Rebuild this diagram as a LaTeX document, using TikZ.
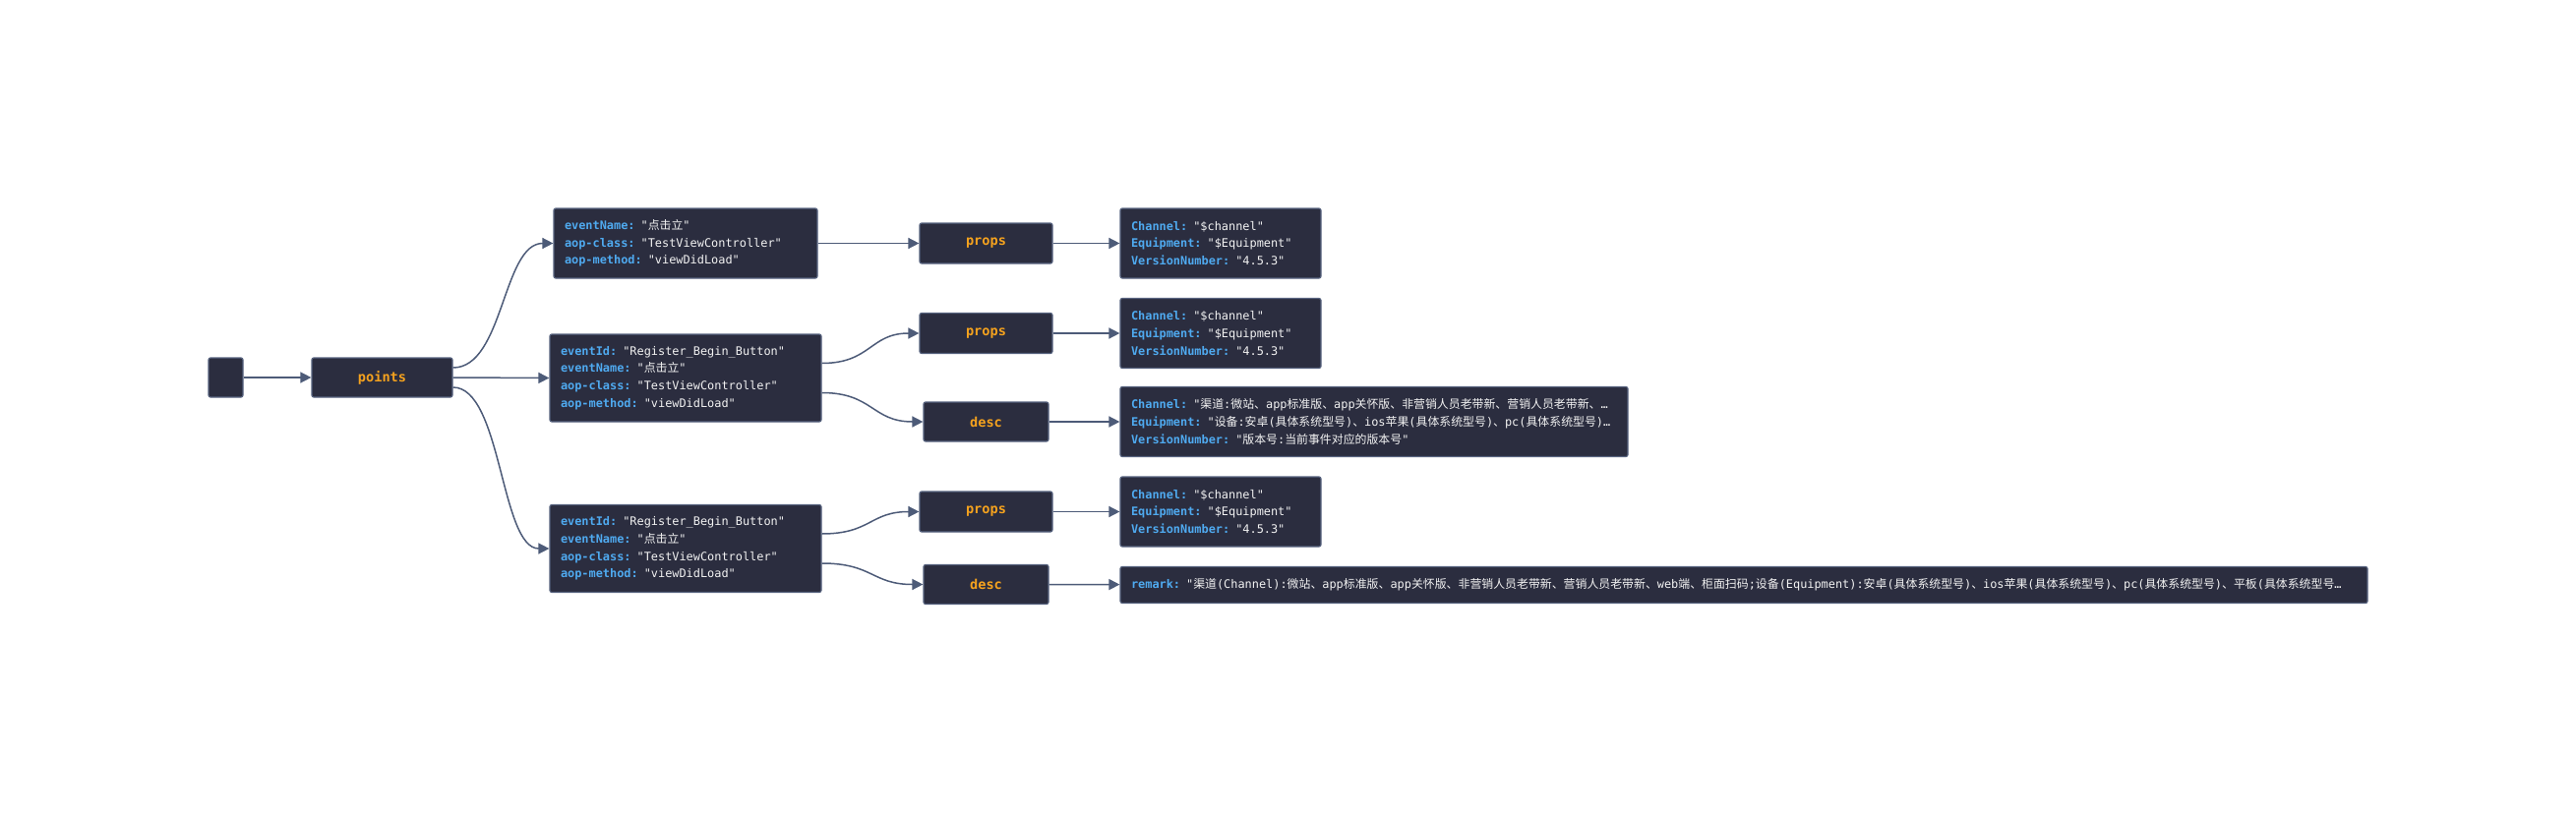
\documentclass[tikz,border=0pt]{standalone}
\usepackage{fontspec}
\usetikzlibrary{arrows.meta,calc}
\newfontfamily\monof{DejaVu Sans Mono}
\newfontfamily\cjkf{Noto Sans CJK SC}
\definecolor{boxc}{HTML}{2B2D3F}
\definecolor{bordc}{HTML}{56627E}
\definecolor{linec}{HTML}{4D5B78}
\definecolor{keyc}{HTML}{4FAAF0}
\definecolor{valc}{HTML}{F2F2F2}
\definecolor{labc}{HTML}{F5A21E}
\newcommand\kk[1]{{\color{keyc}\bfseries #1}}
\newcommand\zh[1]{{\cjkf #1}}
\begin{document}
\begin{tikzpicture}[x=1pt,y=-1pt,
  base/.style={draw=bordc,fill=boxc,line width=1.2pt,rounded corners=2pt,inner ysep=0pt},
  info/.style={base,align=left,inner xsep=11pt,text=valc,
    font={\monof\fontsize{11.9}{17.7}\selectfont}},
  lab/.style={base,inner xsep=0pt,text=labc,
    font={\monof\bfseries\fontsize{13.6}{16}\selectfont}},
  conn/.style={draw=linec,line width=1.5pt,-{Triangle[length=11pt,width=11pt]}}]
\useasboundingbox (0,0) rectangle (2619,827);
% left column
\node[lab,minimum width=35pt,minimum height=40pt] (root) at (229.5,384) {};
\node[lab,minimum width=143pt,minimum height=40pt] (points) at (388.5,384) {points};
% second column
\node[info,text width=246pt,minimum height=71pt] (A) at (697,247.5) {%
\mbox{\kk{eventName:} "\zh{点击立}"}\\
\mbox{\kk{aop-class:} "TestViewController"}\\
\mbox{\kk{aop-method:} "viewDidLoad"}};
\node[info,text width=254pt,minimum height=89pt] (B) at (697,384.5) {%
\mbox{\kk{eventId:} "Register\_Begin\_Button"}\\
\mbox{\kk{eventName:} "\zh{点击立}"}\\
\mbox{\kk{aop-class:} "TestViewController"}\\
\mbox{\kk{aop-method:} "viewDidLoad"}};
\node[info,text width=254pt,minimum height=89pt] (C) at (697,558) {%
\mbox{\kk{eventId:} "Register\_Begin\_Button"}\\
\mbox{\kk{eventName:} "\zh{点击立}"}\\
\mbox{\kk{aop-class:} "TestViewController"}\\
\mbox{\kk{aop-method:} "viewDidLoad"}};
% third column
\node[lab,minimum width=135pt,minimum height=41pt] (p1) at (1002.5,247.5) {props};
\node[lab,minimum width=135pt,minimum height=41pt] (p2) at (1002.5,339) {props};
\node[lab,minimum width=127pt,minimum height=40pt] (d2) at (1002.5,429) {desc};
\node[lab,minimum width=135pt,minimum height=41pt] (p3) at (1002.5,520.5) {props};
\node[lab,minimum width=127pt,minimum height=40pt] (d3) at (1002.5,594.5) {desc};
% fourth column
\node[info,text width=182pt,minimum height=71pt] (P1) at (1241,247.5) {%
\mbox{\kk{Channel:} "\$channel"}\\
\mbox{\kk{Equipment:} "\$Equipment"}\\
\mbox{\kk{VersionNumber:} "4.5.3"}};
\node[info,text width=182pt,minimum height=71pt] (P2) at (1241,339) {%
\mbox{\kk{Channel:} "\$channel"}\\
\mbox{\kk{Equipment:} "\$Equipment"}\\
\mbox{\kk{VersionNumber:} "4.5.3"}};
\node[info,text width=494pt,minimum height=71pt] (D2) at (1397,429) {%
\mbox{\kk{Channel:} "\zh{渠道}:\zh{微站、}app\zh{标准版、}app\zh{关怀版、非营销人员老带新、营销人员老带新、}…}\\
\mbox{\kk{Equipment:} "\zh{设备}:\zh{安卓}(\zh{具体系统型号})\zh{、}ios\zh{苹果}(\zh{具体系统型号})\zh{、}pc(\zh{具体系统型号})…}\\
\mbox{\kk{VersionNumber:} "\zh{版本号}:\zh{当前事件对应的版本号}"}};
\node[info,text width=182pt,minimum height=71pt] (P3) at (1241,520.5) {%
\mbox{\kk{Channel:} "\$channel"}\\
\mbox{\kk{Equipment:} "\$Equipment"}\\
\mbox{\kk{VersionNumber:} "4.5.3"}};
\node[info,text width=1246pt,minimum height=37pt] (R) at (1773,595) {%
\mbox{\kk{remark:} "\zh{渠道}(Channel):\zh{微站、}app\zh{标准版、}app\zh{关怀版、非营销人员老带新、营销人员老带新、}web\zh{端、柜面扫码};\zh{设备}(Equipment):\zh{安卓}(\zh{具体系统型号})\zh{、}ios\zh{苹果}(\zh{具体系统型号})\zh{、}pc(\zh{具体系统型号})\zh{、平板}(\zh{具体系统型号}…}};
% connectors
\draw[conn] (root) -- (points);
\draw[conn] ($(points.east)+(0,-10)$) .. controls +(51.5,0) and +(-51.5,0) .. (A.west);
\draw[conn] (points.east) -- (B.west);
\draw[conn] ($(points.east)+(0,10)$) .. controls +(49.5,0) and +(-49.5,0) .. (C.west);
\draw[conn] (A.east) -- (p1.west);
\draw[conn] ($(B.east)+(0,-15)$) .. controls +(50,0) and +(-50,0) .. (p2.west);
\draw[conn] ($(B.east)+(0,15)$) .. controls +(52,0) and +(-52,0) .. (d2.west);
\draw[conn] ($(C.east)+(0,-15)$) .. controls +(50,0) and +(-50,0) .. (p3.west);
\draw[conn] ($(C.east)+(0,15)$) .. controls +(52,0) and +(-52,0) .. (d3.west);
\draw[conn] (p1) -- (P1);
\draw[conn] (p2) -- (P2);
\draw[conn] (d2) -- (D2);
\draw[conn] (p3) -- (P3);
\draw[conn] (d3) -- (R);
\end{tikzpicture}
\end{document}
